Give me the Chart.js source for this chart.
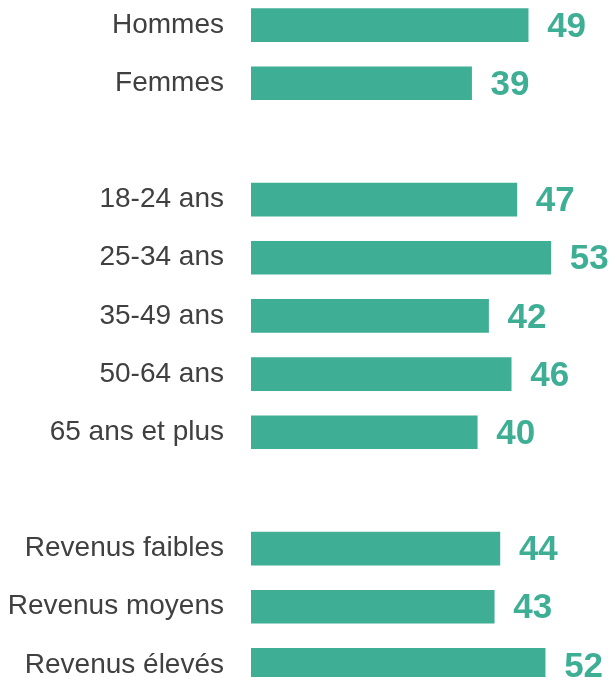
<!DOCTYPE html>
<html>
<head>
<meta charset="utf-8">
<script src="https://cdn.jsdelivr.net/npm/chart.js@4"></script>
<style>
  html, body { margin: 0; padding: 0; background: #fff; overflow: hidden; }
  #wrap { width: 613px; height: 698px; margin-top: -4px; }
</style>
</head>
<body>
<div id="wrap"><canvas id="chart"></canvas></div>
<script>
// categories (empty strings are the gaps between groups)
const categories = [
  "Hommes", "Femmes", "",
  "18-24 ans", "25-34 ans", "35-49 ans", "50-64 ans", "65 ans et plus", "",
  "Revenus faibles", "Revenus moyens", "Revenus élevés"
];
const values = [49, 39, null, 47, 53, 42, 46, 40, null, 44, 43, 52];

const barColor = "#3EAE94";
const textColor = "#404040";

// draws the bold value after each bar
const valueLabels = {
  id: "valueLabels",
  afterDatasetsDraw(chart) {
    const { ctx } = chart;
    const meta = chart.getDatasetMeta(0);
    ctx.save();
    ctx.font = "bold 35px 'Liberation Sans', Arial, sans-serif";
    ctx.fillStyle = barColor;
    ctx.textAlign = "left";
    ctx.textBaseline = "middle";
    meta.data.forEach((bar, i) => {
      if (values[i] == null) return;
      ctx.fillText(values[i], bar.x + 19, bar.y + 2);
    });
    ctx.restore();
  }
};

new Chart(document.getElementById("chart"), {
  type: "bar",
  data: {
    labels: categories,
    datasets: [{
      data: values,
      backgroundColor: barColor,
      barThickness: 33
    }]
  },
  options: {
    indexAxis: "y",
    responsive: true,
    maintainAspectRatio: false,
    animation: false,
    layout: { padding: 0 },
    plugins: {
      legend: { display: false },
      tooltip: { enabled: false }
    },
    scales: {
      x: {
        display: false,
        min: 0,
        max: 64
      },
      y: {
        grid: { display: false, drawTicks: false },
        border: { display: false },
        ticks: {
          color: textColor,
          padding: 27,
          font: { family: "'Liberation Sans', Arial, sans-serif", size: 28 }
        },
        afterFit: (scale) => {
          scale.width = 251;
          scale.paddingTop = 0;
          scale.paddingBottom = 0;
        }
      }
    }
  },
  plugins: [valueLabels]
});
</script>
</body>
</html>
